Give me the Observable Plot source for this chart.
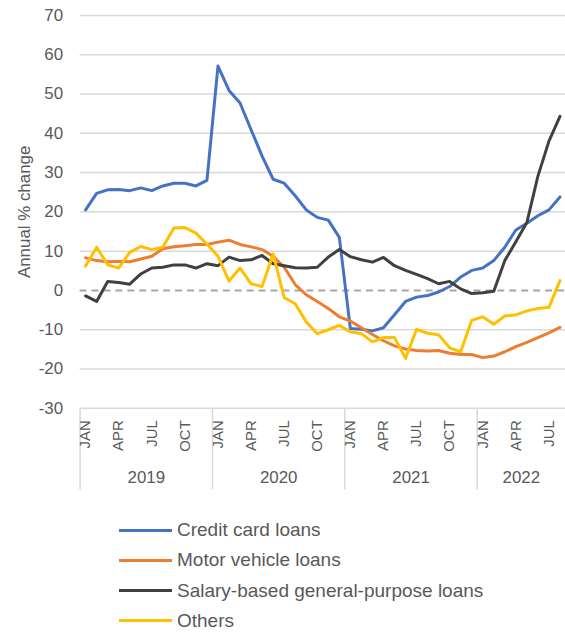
<!DOCTYPE html>
<html><head><meta charset="utf-8">
<script src="https://cdn.jsdelivr.net/npm/d3@7"></script>
<script src="https://cdn.jsdelivr.net/npm/@observablehq/plot@0.6"></script>
<style>
html,body{margin:0;padding:0;overflow:hidden;background:#fff;}
body{position:relative;width:565px;height:632px;font-family:"Liberation Sans",Arial,sans-serif;color:#595959;}
#chart{position:absolute;left:0;top:0;}
.row{position:absolute;left:119px;height:30px;display:flex;align-items:center;font-size:19px;white-space:nowrap;}
.sw{width:53px;height:3px;margin-right:5px;}
</style></head><body>
<div id="chart"></div>
<div id="legend"></div>
<script>
const periods = [
  "2019-01","2019-02","2019-03","2019-04","2019-05","2019-06","2019-07","2019-08","2019-09","2019-10","2019-11","2019-12",
  "2020-01","2020-02","2020-03","2020-04","2020-05","2020-06","2020-07","2020-08","2020-09","2020-10","2020-11","2020-12",
  "2021-01","2021-02","2021-03","2021-04","2021-05","2021-06","2021-07","2021-08","2021-09","2021-10","2021-11","2021-12",
  "2022-01","2022-02","2022-03","2022-04","2022-05","2022-06","2022-07","2022-08"
];
const monthNames = ["JAN","FEB","MAR","APR","MAY","JUN","JUL","AUG","SEP","OCT","NOV","DEC"];
const years = ["2019","2020","2021","2022"];
const yTicks = [-30,-20,-10,0,10,20,30,40,50,60,70];

const seriesNames = ["Credit card loans","Motor vehicle loans","Salary-based general-purpose loans","Others"];
const seriesColors = ["#4472C4","#ED7D31","#404040","#FFC000"];

const creditCard = [20.5,24.7,25.6,25.7,25.4,26.1,25.4,26.6,27.3,27.3,26.6,28.0,
  57.1,50.9,47.7,40.9,34.2,28.3,27.3,24.1,20.5,18.6,17.9,13.5,
  -9.7,-9.9,-10.3,-9.5,-6.2,-2.8,-1.7,-1.3,-0.4,1.0,3.4,5.1,
  5.7,7.6,11.0,15.4,17.1,19.0,20.5,23.8];
const motorVehicle = [8.3,7.6,7.3,7.4,7.3,8.0,8.7,10.6,11.1,11.4,11.7,11.7,
  12.3,12.8,11.7,11.1,10.4,8.7,5.9,1.5,-1.1,-2.8,-4.6,-6.7,
  -7.8,-9.5,-11.2,-12.8,-14.1,-14.9,-15.3,-15.4,-15.3,-16.0,-16.3,-16.3,
  -17.1,-16.7,-15.6,-14.3,-13.2,-12.0,-10.8,-9.4];
const salaryBased = [-1.4,-2.8,2.3,2.0,1.6,4.2,5.7,5.9,6.5,6.5,5.7,6.8,
  6.3,8.5,7.6,7.8,8.9,6.8,6.3,5.8,5.7,5.9,8.5,10.4,
  8.6,7.8,7.2,8.4,6.3,5.1,4.1,3.0,1.7,2.3,0.4,-0.8,
  -0.6,-0.2,7.6,12.4,17.3,29.1,38.0,44.3];
const others = [6.2,11.0,6.5,5.7,9.7,11.2,10.4,11.0,15.9,16.0,14.6,11.8,
  8.7,2.4,5.7,1.7,1.0,9.3,-1.8,-3.4,-8.0,-11.0,-10.0,-8.9,
  -10.5,-11.0,-13.1,-12.0,-12.0,-17.3,-9.9,-10.9,-11.3,-14.6,-15.6,-7.6,
  -6.7,-8.6,-6.5,-6.2,-5.2,-4.6,-4.3,2.5];
const seriesValues = [creditCard, motorVehicle, salaryBased, others];

// derived tick positions (in month-index units)
const idx = periods.map((p, i) => i);
const monthTicks = idx.filter(i => (+periods[i].slice(5) - 1) % 3 === 0);
const yearStart = years.map(y => periods.findIndex(p => p.startsWith(y)));
const yearEnd = years.map(y => periods.map(p => p.startsWith(y)).lastIndexOf(true));
const separators = yearStart.map(i => i - 0.5);
const yearCenters = years.map((y, k) => (yearStart[k] + yearEnd[k]) / 2);

const chart = Plot.plot({
  width: 568, height: 500,
  marginLeft: 80, marginRight: 0, marginTop: 15, marginBottom: 90,
  style: {fontFamily: "'Liberation Sans', Arial, sans-serif", color: "#595959", background: "white", overflow: "visible"},
  x: {type: "linear", domain: [-0.5, periods.length - 0.5]},
  y: {domain: [-30, 70]},
  marks: [
    Plot.gridY(yTicks.filter(t => t !== 0), {stroke: "#d9d9d9", strokeOpacity: 1, strokeWidth: 1.5}),
    Plot.ruleY([0], {stroke: "#a6a6a6", strokeWidth: 2, strokeDasharray: "7,5"}),
    Plot.axisY({ticks: yTicks, tickSize: 0, tickPadding: 17, fontSize: 17, tickFormat: d => String(d), label: "Annual % change", labelAnchor: "center", labelArrow: "none", labelOffset: 62}),
    Plot.axisX({ticks: separators, tickSize: 82, tickFormat: () => "", stroke: "#d9d9d9", strokeWidth: 1.5, strokeOpacity: 1, label: null}),
    Plot.axisX({ticks: monthTicks, tickSize: 0, tickPadding: 12, tickRotate: -90, fontSize: 15, tickFormat: i => monthNames[+periods[i].slice(5) - 1], label: null}),
    Plot.axisX({ticks: yearCenters, tickSize: 0, tickPadding: 63, fontSize: 17, tickFormat: (d, k) => years[k], label: null}),
    ...seriesValues.map((vals, k) => Plot.lineY(vals, {x: (d, i) => i, y: d => d, stroke: seriesColors[k], strokeWidth: 3, strokeLinejoin: "round", strokeLinecap: "round"}))
  ]
});
document.getElementById("chart").appendChild(chart);

const legend = document.getElementById("legend");
seriesNames.forEach((name, k) => {
  const row = document.createElement("div");
  row.className = "row";
  row.style.top = (515 + 30.3 * k) + "px";
  const sw = document.createElement("span");
  sw.className = "sw";
  sw.style.background = seriesColors[k];
  const t = document.createElement("span");
  t.textContent = name;
  row.appendChild(sw); row.appendChild(t);
  legend.appendChild(row);
});
</script>
</body></html>
